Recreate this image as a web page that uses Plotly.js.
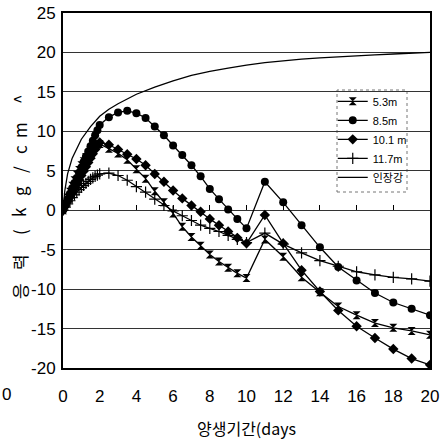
<!DOCTYPE html>
<html>
<head>
<meta charset="utf-8">
<script src="https://cdn.plot.ly/plotly-3.0.1.min.js"></script>
<style>html,body{margin:0;padding:0;background:#fff;}#chart{width:448px;height:440px;}</style>
</head>
<body>
<div id="chart"></div>
<script>
// curing days for the gauge series
const days = [0,0.125,0.25,0.375,0.5,0.625,0.75,0.875,1,1.125,1.25,1.375,1.5,1.625,1.75,1.875,2,
  2.5,3,3.5,4,4.5,5,5.5,6,6.5,7,7.5,8,8.5,9,9.5,10,
  11,12,13,14,15,16,17,18,19,20];
const seriesNames = ["5.3m", "8.5m", "10.1 m", "11.7m"];
const s53 = [0,0.8,1.6,2.35,3.1,3.8,4.5,5.1,5.7,6.2,6.7,7.15,7.6,7.9,8.2,8.3,8.4,
  7.8,7.2,6.4,5.2,4.0,2.4,1.0,-0.4,-2.1,-3.4,-4.5,-5.6,-6.5,-7.3,-8.0,-8.6,
  -3.7,-5.9,-8.5,-10.4,-12.2,-13.3,-14.3,-14.9,-15.3,-15.8];
const s85 = [0,0.7,1.4,2.1,2.8,3.45,4.1,4.75,5.4,6.1,6.8,7.45,8.1,8.8,9.5,10.15,10.8,
  11.8,12.4,12.6,12.3,11.7,10.6,9.5,8.2,7.0,5.7,4.3,2.7,1.4,0.1,-1.1,-2.3,
  3.6,1.0,-1.9,-4.7,-7.2,-8.9,-10.5,-11.7,-12.5,-13.3];
const s101 = [0,0.55,1.1,1.65,2.2,2.75,3.3,3.85,4.4,4.95,5.5,6.05,6.6,7.15,7.7,8.2,8.6,
  8.3,7.7,7.1,6.5,5.7,4.6,3.6,2.5,1.5,0.6,-0.2,-1.1,-1.9,-2.7,-3.5,-4.2,
  -0.6,-4.2,-7.6,-10.3,-12.7,-14.7,-16.2,-17.6,-18.8,-19.6];
const s117 = [0,0.4,0.8,1.2,1.6,1.95,2.3,2.6,2.9,3.15,3.4,3.65,3.9,4.1,4.3,4.45,4.6,
  4.7,4.4,3.8,3.0,2.3,1.4,0.6,-0.1,-0.7,-1.3,-1.9,-2.3,-2.7,-3.2,-3.7,-4.1,
  -2.9,-4.3,-5.4,-6.4,-7.1,-7.8,-8.2,-8.5,-8.7,-9.0];
// tensile strength curve
const strengthName = "인장강";
const strengthDays = [0,0.1,0.25,0.5,1,1.5,2,2.5,3,3.5,4,5,6,7,8,9,10,11,12,13,14,15,16,17,18,19,20];
const strengthVals = [0,2.5,4.6,6.6,9.0,10.6,11.9,12.8,13.5,14.1,14.7,15.6,16.4,17.1,17.6,18.0,18.4,18.7,18.95,19.15,19.3,19.45,19.6,19.7,19.8,19.9,20.0];
const xTicks = [0,2,4,6,8,10,12,14,16,18,20];
const yTicks = [-20,-15,-10,-5,0,5,10,15,20,25];
const yTitleChars = ["응", "력", "(", "k", "g", "/", "c", "m", "^"];

const lineStyle = {color: "#000", width: 1.3};
const traces = [
  {x: days, y: s53, name: seriesNames[0], mode: "lines+markers", line: lineStyle,
   marker: {symbol: "hourglass", size: 8, color: "#000"}},
  {x: days, y: s85, name: seriesNames[1], mode: "lines+markers", line: lineStyle,
   marker: {symbol: "circle", size: 8, color: "#000"}},
  {x: days, y: s101, name: seriesNames[2], mode: "lines+markers", line: lineStyle,
   marker: {symbol: "diamond", size: 8, color: "#000"}},
  {x: days, y: s117, name: seriesNames[3], mode: "lines+markers", line: lineStyle,
   marker: {symbol: "cross-thin-open", size: 8, color: "#000", line: {color: "#000", width: 1.2}}},
  {x: strengthDays, y: strengthVals, name: strengthName, mode: "lines", line: lineStyle}
];

const tickFont = {family: "Liberation Sans Narrow, Liberation Sans, Arial, sans-serif", size: 17, color: "#000"};
const titleFont = {family: "Noto Sans CJK KR, Liberation Sans, sans-serif", size: 17, color: "#000"};

// y-axis title: one rotated glyph per annotation, spread like the original
const plotTop = 13, plotBottom = 368;
const charPx = [291, 262, 232, 212, 191, 170, 150, 130, 100];
const toPaperY = py => (plotBottom - py) / (plotBottom - plotTop);
const yTitleAnn = yTitleChars.map((c, i) => ({
  xref: "paper", yref: "paper", x: (19 - 63) / 367, y: toPaperY(charPx[i]),
  xanchor: "center", yanchor: "middle", text: c, textangle: -90,
  showarrow: false, font: titleFont
}));

const layout = {
  width: 448, height: 440,
  margin: {l: 63, r: 18, t: 13, b: 72, pad: 0},
  paper_bgcolor: "#fff", plot_bgcolor: "#fff",
  showlegend: true,
  font: {family: "Liberation Sans, Noto Sans CJK KR, sans-serif", color: "#000"},
  xaxis: {
    range: [0, 20], tickvals: xTicks, ticktext: xTicks.map(String),
    showgrid: false, zeroline: false,
    showline: true, linecolor: "#000", linewidth: 2, mirror: true,
    ticks: "", tickfont: tickFont, ticklabelstandoff: 12,
    title: {text: "양생기간(days", font: {family: "Noto Sans CJK KR, Liberation Sans, sans-serif", size: 16, color: "#000"}, standoff: 20}
  },
  xaxis2: {
    overlaying: "x", anchor: "free", position: 20/45, matches: "x",
    range: [0, 20], tickvals: xTicks, showticklabels: false,
    showgrid: false, zeroline: false, showline: false,
    ticks: "inside", ticklen: 5, tickwidth: 1, tickcolor: "#000"
  },
  yaxis: {
    range: [-20, 25], tickvals: yTicks, ticktext: yTicks.map(v => v < 0 ? "-" + Math.abs(v) : String(v)),
    showgrid: true, gridcolor: "#333", gridwidth: 1, zeroline: false,
    showline: true, linecolor: "#000", linewidth: 2, mirror: true,
    ticks: "", tickfont: tickFont, ticklabelstandoff: 2
  },
  legend: {
    x: 0.735, y: 0.792, xanchor: "left", yanchor: "top",
    bgcolor: "rgba(255,255,255,0)", borderwidth: 0,
    font: {family: "Liberation Sans Narrow, Liberation Sans, Noto Sans CJK KR, sans-serif", size: 11, color: "#000"},
    itemwidth: 30, tracegroupgap: 0
  },
  shapes: [
    {type: "rect", xref: "paper", yref: "paper",
     x0: (337 - 63) / 367, x1: (407 - 63) / 367, y0: toPaperY(192), y1: toPaperY(90),
     line: {color: "#777", width: 1, dash: "dot"}, fillcolor: "#fff", layer: "below"}
  ],
  annotations: yTitleAnn.concat([
    {xref: "paper", yref: "paper", x: (0 - 63) / 367, y: toPaperY(395), xanchor: "left", yanchor: "middle",
     text: "0", showarrow: false, font: tickFont}
  ])
};

const trigger = {x: xTicks, y: xTicks.map(() => null), xaxis: "x2", mode: "markers", showlegend: false, hoverinfo: "skip"};
Plotly.newPlot("chart", traces.concat([trigger]), layout, {staticPlot: true, displayModeBar: false});
</script>
</body>
</html>
